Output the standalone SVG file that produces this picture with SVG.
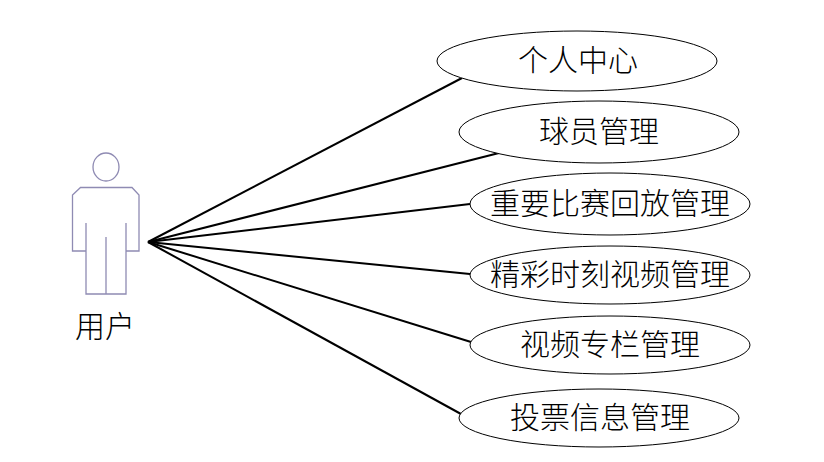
<svg xmlns="http://www.w3.org/2000/svg" width="824" height="462" viewBox="0 0 824 462">
<style>
.uc{fill:#fff;stroke:#000;stroke-width:1}
.a{fill:none;stroke:#8f8bb3;stroke-width:1.3}
.t{font-family:"Noto Sans CJK SC","Liberation Sans",sans-serif;font-size:30px;font-weight:300;fill:#000;text-anchor:middle;dominant-baseline:central}
.c{fill:none;stroke:#000;stroke-width:2}
</style>
<rect width="824" height="462" fill="#fff"/>
<g id="connectors">
<line class="c" x1="148" y1="242" x2="462" y2="78"/>
<line class="c" x1="148" y1="242" x2="499" y2="153"/>
<line class="c" x1="148" y1="242" x2="470" y2="204"/>
<line class="c" x1="148" y1="242" x2="470" y2="274"/>
<line class="c" x1="148" y1="242" x2="471" y2="342"/>
<line class="c" x1="148" y1="242" x2="461" y2="414"/>
</g>
<g id="actor">
<ellipse class="a" cx="106" cy="167" rx="13" ry="14"/>
<path class="a" d="M86 223V251H72.500V195L80.500 187.500H132L139 195V251H126V223M86 251V294H126V251M106 237V294"/>
<text class="t" x="105" y="324">用户</text>
</g>
<g id="uc1"><ellipse class="uc" cx="577" cy="61" rx="140" ry="30"/><text class="t" x="578" y="58">个人中心</text></g>
<g id="uc2"><ellipse class="uc" cx="599" cy="132" rx="140" ry="31"/><text class="t" x="599" y="129">球员管理</text></g>
<g id="uc3"><ellipse class="uc" cx="610" cy="204" rx="140" ry="31"/><text class="t" x="610" y="201">重要比赛回放管理</text></g>
<g id="uc4"><ellipse class="uc" cx="610" cy="275" rx="140" ry="29"/><text class="t" x="610" y="272">精彩时刻视频管理</text></g>
<g id="uc5"><ellipse class="uc" cx="610" cy="345" rx="140" ry="29"/><text class="t" x="610" y="342">视频专栏管理</text></g>
<g id="uc6"><ellipse class="uc" cx="599" cy="418" rx="140" ry="29"/><text class="t" x="600" y="415">投票信息管理</text></g>
</svg>
